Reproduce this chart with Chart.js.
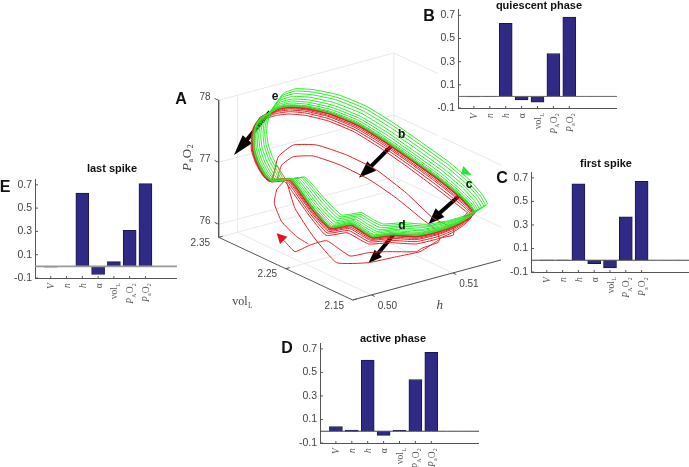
<!DOCTYPE html>
<html>
<head>
<meta charset="utf-8">
<script src="https://cdn.jsdelivr.net/npm/chart.js@4"></script>
<style>
html, body { margin: 0; background: #fff; overflow: hidden; }
canvas { position: absolute; }
.letter { position: absolute; font: bold 16px "Liberation Sans"; color: #111; transform: translate(-50%, -50%); z-index: 5; }
</style>
</head>
<body>
<canvas id="orbit" width="340" height="300" style="left:170px;top:30px"></canvas>
<script>
// bar panels
const categories = ['', 'V', 'n', 'h', 'α', 'volL', 'PAO2', 'PaO2', '', '', ''];
const yTickValues = [-0.1, 0.1, 0.3, 0.5, 0.7];
const quiescentValues = [null, -0.005, 0.001, 0.63, -0.03, -0.05, 0.37, 0.685];
const firstSpikeValues = [null, 0.002, 0.001, 0.65, -0.03, -0.065, 0.37, 0.67];
const activeValues = [null, 0.04, 0.01, 0.605, -0.035, 0.008, 0.44, 0.67];
const lastSpikeValues = [null, -0.007, 0.001, 0.63, -0.07, 0.04, 0.31, 0.71];

// 3-D axes
const pTicks = [76, 77, 78];
const volTicks = [2.15, 2.25, 2.35];
const hTicks = [0.50, 0.51];

// orbit traces in view-plane units
const green8 = [[318,70],[340,40],[378,26],[430,29],[504,44],[588,78],[671,129],[754,187],[838,247],[901,302],[937,344],[952,372],[920,390],[882,408],[835,422],[770,433],[698,428],[640,432],[608,418],[575,398],[515,405],[468,360],[427,313],[405,291],[372,296],[340,297],[325,265],[308,232],[295,195],[290,160],[292,130],[300,105],[318,70]];
const green7 = [[315,74],[338,46],[376,33],[427,36],[501,52],[584,85],[667,136],[749,193],[833,253],[895,307],[931,348],[946,376],[915,394],[878,412],[831,426],[766,438],[694,433],[636,437],[603,422],[571,403],[510,410],[463,364],[421,315],[399,292],[367,297],[335,298],[319,268],[302,235],[289,197],[284,161],[287,131],[297,106],[315,74]];
const green6 = [[313,78],[336,52],[373,41],[424,44],[497,59],[580,93],[662,143],[744,200],[827,259],[890,312],[925,352],[941,379],[910,398],[873,416],[827,430],[762,442],[690,438],[631,443],[599,427],[567,408],[506,415],[457,368],[415,316],[393,293],[362,297],[330,299],[314,271],[296,237],[283,199],[279,163],[282,131],[293,107],[313,78]];
const green5 = [[310,82],[333,59],[370,49],[421,52],[493,68],[576,101],[657,151],[739,207],[821,266],[883,318],[919,356],[934,383],[905,402],[868,420],[822,435],[757,448],[686,443],[626,449],[593,432],[562,413],[500,421],[451,372],[409,318],[386,294],[356,298],[325,300],[307,274],[289,240],[276,202],[272,164],[277,132],[289,108],[310,82]];
const green4 = [[307,87],[331,66],[367,57],[418,60],[490,76],[571,109],[653,158],[734,214],[816,272],[877,323],[912,361],[928,387],[899,407],[863,425],[817,440],[752,452],[681,448],[621,454],[589,437],[557,418],[496,427],[446,377],[402,320],[380,295],[350,298],[319,301],[301,277],[283,243],[270,204],[266,166],[272,133],[285,109],[307,87]];
const green3 = [[305,90],[329,72],[365,63],[416,67],[487,83],[568,115],[649,164],[730,220],[811,278],[871,328],[907,364],[923,391],[895,410],[859,428],[813,444],[748,457],[678,452],[617,459],[584,441],[553,422],[491,432],[441,380],[397,322],[374,296],[345,299],[315,301],[296,279],[277,245],[264,206],[261,167],[268,134],[282,110],[305,90]];
const green2 = [[303,93],[328,77],[363,69],[413,73],[484,89],[565,121],[645,170],[726,225],[806,283],[867,332],[902,367],[919,394],[891,413],[855,431],[810,447],[745,460],[675,456],[613,464],[581,445],[550,426],[488,436],[436,383],[392,323],[369,297],[341,299],[311,302],[292,282],[272,247],[259,207],[257,168],[264,134],[279,111],[303,93]];
const green1 = [[301,96],[326,80],[361,74],[412,78],[482,94],[562,126],[642,174],[723,229],[803,287],[863,335],[898,370],[915,396],[888,416],[853,434],[807,450],[742,463],[672,459],[611,467],[578,447],[547,429],[485,439],[433,386],[388,324],[365,297],[338,300],[308,303],[288,283],[268,249],[255,209],[253,169],[261,135],[277,112],[301,96]];
const green0 = [[300,98],[325,84],[360,78],[410,82],[480,98],[560,130],[640,178],[720,233],[800,290],[860,338],[895,372],[912,398],[885,418],[850,436],[805,452],[740,466],[670,462],[608,470],[575,450],[545,432],[482,442],[430,388],[385,325],[362,298],[335,300],[305,303],[285,285],[265,250],[252,210],[250,170],[258,135],[275,112],[300,98]];

const red1 = [[299,99],[325,86],[360,80],[410,84],[480,100],[559,132],[639,180],[719,235],[799,292],[859,340],[894,374],[911,399],[885,419],[850,438],[805,454],[740,468],[669,464],[607,472],[574,452],[544,434],[481,444],[429,389],[384,326],[361,298],[334,300],[304,303],[284,285],[264,250],[251,210],[250,170],[257,136],[274,113],[299,99]];
const red2 = [[297,102],[324,88],[359,83],[409,87],[479,103],[559,135],[638,183],[718,238],[798,295],[858,343],[893,376],[910,401],[884,422],[849,440],[804,457],[739,471],[668,467],[606,474],[572,455],[542,437],[479,447],[427,391],[381,327],[358,299],[332,300],[303,303],[283,285],[263,250],[250,210],[249,170],[256,137],[273,114],[297,102]];
const red3 = [[295,104],[323,92],[359,86],[409,90],[478,107],[558,139],[637,187],[716,242],[796,299],[856,347],[892,379],[909,403],[883,424],[849,444],[804,461],[739,475],[667,471],[604,478],[570,458],[540,441],[477,450],[424,393],[379,329],[356,300],[330,301],[302,303],[282,285],[262,250],[249,210],[248,171],[255,138],[271,116],[295,104]];
const red4 = [[292,107],[322,95],[358,90],[408,94],[477,110],[556,143],[635,191],[715,246],[794,303],[854,350],[890,382],[908,405],[882,427],[848,447],[803,464],[738,479],[666,475],[602,481],[568,462],[538,445],[475,454],[422,395],[376,330],[353,301],[327,301],[300,303],[281,285],[261,250],[248,210],[247,171],[254,139],[269,118],[292,107]];
const red5 = [[289,111],[321,100],[358,95],[407,99],[476,116],[555,149],[634,197],[713,252],[791,309],[851,356],[888,386],[906,408],[881,431],[848,452],[803,470],[738,485],[664,481],[599,486],[565,467],[535,451],[472,459],[418,398],[372,332],[349,302],[324,301],[298,303],[279,285],[259,250],[246,210],[246,171],[252,141],[266,121],[289,111]];
const red6 = [[285,116],[320,106],[357,102],[406,106],[475,123],[553,156],[631,204],[710,259],[788,317],[848,363],[885,392],[904,412],[880,436],[847,458],[802,477],[737,492],[662,488],[596,492],[561,474],[531,458],[468,466],[414,402],[367,335],[344,304],[320,302],[295,303],[277,285],[257,250],[244,210],[244,172],[250,143],[263,124],[285,116]];

const redLoopA = [[308,297],[325,230],[370,195],[440,195],[530,225],[620,270],[710,340],[790,415],[850,445],[850,465],[810,475],[805,487],[755,505],[740,515],[650,515],[595,518],[540,528],[470,482],[420,495],[375,515],[345,485],[328,468]];
const redLoopB = [[322,295],[335,255],[370,230],[430,228],[510,255],[600,300],[680,355],[760,420],[800,450],[808,478],[790,490],[750,515],[680,530],[595,548],[500,548],[430,470],[375,385],[350,305]];
const redLoopC = [[345,300],[320,330],[313,370],[335,425],[380,470],[415,492]];
const olive1 = [[320,255],[345,295],[305,298],[320,255]];
const olive2 = [[905,385],[915,400],[880,410],[905,385]];

const arrowShafts = [
  [[300,95],[225,186]],
  [[665,197],[600,262]],
  [[870,345],[805,403]],
  [[670,465],[620,525]]
];
const arrowHeads = [
  [[192,225],[246,190],[218,166]],
  [[567,293],[618,272],[592,244]],
  [[775,433],[823,411],[797,385]],
  [[595,550],[636,531],[614,509]]
];
const redHead = [[320,460],[352,470],[330,492]];
const greenHead = [[905,285],[880,258],[873,283]];
const pointLabels = [['e',315,50],['b',695,163],['c',897,315],['d',696,438]];

// linear view of the 3-D box, in the same units as the traces
const hMin = 0.4977, hMax = 0.5192, volMin = 2.15, volMax = 2.35, pMin = 75.79, pMax = 78;
function view(h, vol, p) {
  return [
    548 + (h - hMin) * 24450 - (vol - volMin) * 2010,
    660 - (h - hMin) * 6600 - (vol - volMin) * 940 - (p - pMin) * 186
  ];
}
const gap = [null, null];
const gridPts = [];
for (const p of pTicks) gridPts.push(view(hMin, volMax, p), view(hMax, volMax, p), view(hMax, volMin, p), gap);
for (const v of volTicks) gridPts.push(view(hMin, v, pMin), view(hMax, v, pMin), gap);
for (const h of hTicks) gridPts.push(view(h, volMin, pMin), view(h, volMax, pMin), gap);
gridPts.push(view(hTicks[0], volMax, pMin), view(hTicks[0], volMax, pMax), gap);
gridPts.push(view(hMax, volMax, pMin), view(hMax, volMax, pMax), gap);

const axisPts = [view(hMin, volMax, pMax), view(hMin, volMax, pMin), view(hMin, volMin, pMin), view(hMax, volMin, pMin), gap];
for (const p of pTicks) axisPts.push(view(hMin, volMax, p), view(hMin, volMax + 0.006, p), gap);
for (const v of volTicks) axisPts.push(view(hMin, v, pMin), view(hMin + 0.0005, v, pMin), gap);
for (const h of hTicks) axisPts.push(view(h, volMin, pMin), view(h, volMin - 0.005, pMin), gap);

const GREEN = '#2bea2b', RED = '#e9202a', SANS = '"Liberation Sans"', SERIF = '"Liberation Serif"';

function trace(data, color, width, extra) {
  return Object.assign({ data, borderColor: color, borderWidth: width, showLine: true, pointRadius: 0, tension: 0.14, borderJoinStyle: 'round', spanGaps: false }, extra || {});
}
function head(data, color) {
  return trace(data, color, 0, { fill: 'shape', backgroundColor: color, tension: 0 });
}

// paint order: first entry lies at the bottom
const layers = [
  trace(gridPts, '#e8e8e8', 1, { tension: 0 }),
  trace(axisPts, '#555', 1, { tension: 0 })
];
arrowShafts.forEach(s => layers.push(trace(s, '#000', 4, { tension: 0 })));
arrowHeads.forEach(h => layers.push(head(h, '#000')));
layers.push(trace(redLoopA, RED, 1), trace(redLoopB, RED, 1), trace(redLoopC, RED, 1));
[red6, red5, red4, red3, red2].forEach(r => layers.push(trace(r, RED, 1)));
layers.push(trace(red1, RED, 2.8));
[green8, green7, green6, green5, green4, green3, green2, green1].forEach(g => layers.push(trace(g, GREEN, 1)));
layers.push(trace(green0, GREEN, 1.4));
layers.push(trace(olive1, '#a08a2a', 1, { tension: 0 }), trace(olive2, '#a08a2a', 1, { tension: 0 }));
layers.push(head(redHead, '#e8101c'), head(greenHead, '#22e63a'));
layers.forEach((d, i) => { d.order = layers.length - i; });

// draws a label made of [text, kind] runs, kind: n normal, i italic, s subscript
function drawRuns(ctx, runs, size, color, alignEnd) {
  const fontFor = k => k === 'i' ? `italic ${size}px ${SERIF}` : k === 's' ? `${size * 0.62}px ${SERIF}` : `${size}px ${SERIF}`;
  const space = alignEnd ? 0.2 : 0.6;
  let total = 0;
  for (const [t, k] of runs) { ctx.font = fontFor(k); total += ctx.measureText(t).width + space; }
  let x = alignEnd ? -total : -total / 2;
  ctx.fillStyle = color;
  ctx.textAlign = 'left';
  ctx.textBaseline = 'alphabetic';
  for (const [t, k] of runs) {
    ctx.font = fontFor(k);
    ctx.fillText(t, x, k === 's' ? 2.5 : 0);
    x += ctx.measureText(t).width + space;
  }
}

const orbitText = {
  id: 'orbitText',
  afterDraw(chart) {
    const { ctx, scales: { x, y } } = chart;
    const at = (vx, vy) => [x.getPixelForValue(vx), y.getPixelForValue(vy)];
    const tick = (label, pos, dx, dy) => {
      const [px, py] = at(pos[0] + dx, pos[1] + dy);
      ctx.font = `10px ${SANS}`; ctx.fillStyle = '#444'; ctx.textAlign = 'center'; ctx.textBaseline = 'middle';
      ctx.fillText(label, px, py);
    };
    ctx.save();
    pTicks.forEach(p => tick(String(p), view(hMin, volMax, p), -41, -9));
    volTicks.forEach(v => tick(v.toFixed(2), view(hMin, v, pMin), -55, 18));
    hTicks.forEach(h => tick(h.toFixed(2), view(h, volMin, pMin), 48, 33));
    ctx.font = `bold 12px ${SANS}`; ctx.fillStyle = '#111'; ctx.textAlign = 'center'; ctx.textBaseline = 'middle';
    pointLabels.forEach(([t, vx, vy]) => { const [px, py] = at(vx, vy); ctx.fillText(t, px, py); });

    let [px, py] = at(218, 676);
    ctx.save(); ctx.translate(px, py); drawRuns(ctx, [['vol', 'n'], ['L', 's']], 12, '#444'); ctx.restore();
    [px, py] = at(810, 688);
    ctx.save(); ctx.translate(px, py); drawRuns(ctx, [['h', 'i']], 13, '#444'); ctx.restore();
    [px, py] = at(62, 232);
    ctx.save(); ctx.translate(px, py); ctx.rotate(-Math.PI / 2); drawRuns(ctx, [['P', 'i'], ['a', 's'], ['O', 'n'], ['2', 's']], 13, '#444'); ctx.restore();
    ctx.restore();
  }
};

new Chart(document.getElementById('orbit'), {
  type: 'scatter',
  data: { datasets: layers },
  options: {
    responsive: false,
    animation: false,
    layout: { padding: 0 },
    scales: {
      x: { type: 'linear', display: false, min: 0, max: 1020 },
      y: { type: 'linear', display: false, min: -150, max: 750, reverse: true }
    },
    plugins: { legend: { display: false }, tooltip: { enabled: false } }
  },
  plugins: [orbitText]
});

// names under the bars
const xLabelRuns = {
  V: [['V', 'i']], n: [['n', 'i']], h: [['h', 'i']], 'α': [['α', 'n']],
  volL: [['vol', 'n'], ['L', 's']],
  PAO2: [['P', 'i'], ['A', 's'], ['O', 'n'], ['2', 's']],
  PaO2: [['P', 'i'], ['a', 's'], ['O', 'n'], ['2', 's']]
};

const panels = [
  { title: 'quiescent phase', values: quiescentValues, slots: 11, left: 458, top: 9.5, bottom: 108, gutter: 20, right: 617, titleX: 81, titleY: -3.5, zero: '#666', zeroWidth: 1 },
  { title: 'first spike', values: firstSpikeValues, slots: 11, left: 530.7, top: 171.7, bottom: 271.7, gutter: 30, right: 689, titleX: 75, titleY: -7.7, zero: '#444', zeroWidth: 1 },
  { title: 'active phase', values: activeValues, slots: 11, left: 320, top: 342.7, bottom: 442.3, gutter: 24, right: 479, titleX: 73, titleY: -3.7, zero: '#444', zeroWidth: 1 },
  { title: 'last spike', values: lastSpikeValues, slots: 10, left: 35, top: 179, bottom: 278.3, gutter: 24, right: 177, titleX: 77, titleY: -10, zero: '#999', zeroWidth: 1.6 }
];

const panelDecor = {
  id: 'panelDecor',
  afterDraw(chart, args, opts) {
    const { ctx, chartArea: a, scales: { x, y } } = chart;
    ctx.save();
    ctx.strokeStyle = '#555';
    ctx.lineWidth = 1;
    ctx.beginPath();
    yTickValues.forEach(v => { const py = y.getPixelForValue(v); ctx.moveTo(a.left, py); ctx.lineTo(a.left + 3, py); });
    for (let i = 1; i < 8; i++) { const px = x.getPixelForValue(i); ctx.moveTo(px, a.bottom); ctx.lineTo(px, a.bottom - 2); }
    ctx.stroke();
    for (let i = 1; i < 8; i++) {
      ctx.save();
      ctx.translate(x.getPixelForValue(i) + 3.5, a.bottom + 5);
      ctx.rotate(-Math.PI / 2);
      drawRuns(ctx, xLabelRuns[categories[i]], 9.5, '#555', true);
      ctx.restore();
    }
    ctx.font = `bold 11px ${SANS}`; ctx.fillStyle = '#111'; ctx.textAlign = 'center'; ctx.textBaseline = 'middle';
    ctx.fillText(opts.title, a.left + opts.titleX, a.top + opts.titleY);
    ctx.restore();
  }
};

panels.forEach(p => {
  const canvasTop = Math.max(0, p.top - 20);
  const topGap = p.top - canvasTop;
  const cv = document.createElement('canvas');
  cv.width = Math.round(p.gutter + p.right - p.left);
  cv.height = Math.round(topGap + (p.bottom - p.top) + 30);
  cv.style.left = (p.left - p.gutter) + 'px';
  cv.style.top = canvasTop + 'px';
  cv.style.background = '#fff';
  document.body.appendChild(cv);
  const labels = categories.slice(0, p.slots);
  new Chart(cv, {
    data: {
      labels,
      datasets: [
        { type: 'line', data: labels.map(() => 0), borderColor: p.zero, borderWidth: p.zeroWidth, pointRadius: 0, order: 0 },
        { type: 'bar', data: p.values, backgroundColor: '#2f2b85', borderColor: '#1a1750', borderWidth: 1, barThickness: 13, order: 1 }
      ]
    },
    options: {
      responsive: false,
      animation: false,
      layout: { padding: { top: topGap, left: 0, right: 0, bottom: 0 } },
      scales: {
        x: {
          type: 'category', offset: false,
          grid: { display: false, drawTicks: false }, border: { display: true, color: '#555' },
          ticks: { display: false },
          afterFit: s => { s.height = 30; }
        },
        y: {
          min: -0.1, max: 0.75,
          grid: { display: false, drawTicks: false }, border: { display: true, color: '#555' },
          afterBuildTicks: s => { s.ticks = yTickValues.map(value => ({ value })); },
          ticks: { padding: 3, color: '#444', font: { family: 'Liberation Sans', size: 10.5 }, callback: v => v.toFixed(1) },
          afterFit: s => { s.width = p.gutter; }
        }
      },
      plugins: { legend: { display: false }, tooltip: { enabled: false }, panelDecor: { title: p.title, titleX: p.titleX, titleY: p.titleY } }
    },
    plugins: [panelDecor]
  });
});

// panel letters
[['A', 181, 99], ['B', 429, 16], ['C', 502, 178], ['D', 287, 348], ['E', 5, 187]].forEach(([t, x, y]) => {
  const d = document.createElement('div');
  d.className = 'letter';
  d.textContent = t;
  d.style.left = x + 'px';
  d.style.top = y + 'px';
  document.body.appendChild(d);
});
</script>
</body>
</html>
